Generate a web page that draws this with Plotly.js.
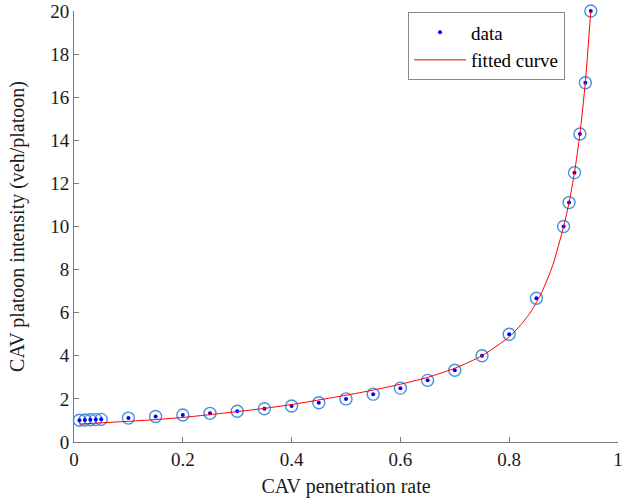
<!DOCTYPE html>
<html>
<head>
<meta charset="utf-8">
<script src="https://cdn.plot.ly/plotly-3.0.1.min.js"></script>
<style>html,body{margin:0;padding:0;background:#fff;}#chart{width:624px;height:501px;}</style>
</head>
<body>
<div id="chart"></div>
<script>
// Data points (CAV penetration rate vs platoon intensity)
var penetrationRate = [0.01, 0.02, 0.03, 0.04, 0.05, 0.10, 0.15, 0.20, 0.25, 0.30, 0.35, 0.40, 0.45, 0.50, 0.55, 0.60, 0.65, 0.70, 0.75, 0.80, 0.85, 0.90, 0.91, 0.92, 0.93, 0.94, 0.95];
var platoonIntensity = [1.01, 1.02, 1.03, 1.04, 1.05, 1.11, 1.18, 1.25, 1.33, 1.43, 1.54, 1.67, 1.82, 2.00, 2.22, 2.50, 2.86, 3.33, 4.00, 5.00, 6.67, 10.00, 11.11, 12.50, 14.29, 16.67, 20.00];

// Fitted curve
var fitRate = [0.01, 0.05, 0.10, 0.15, 0.20, 0.25, 0.30, 0.35, 0.40, 0.45, 0.50, 0.55, 0.60, 0.65, 0.70, 0.75, 0.80, 0.82, 0.84, 0.86, 0.88, 0.90, 0.91, 0.92, 0.93, 0.94, 0.95];
var fitIntensity = [0.83, 0.89, 0.96, 1.04, 1.14, 1.27, 1.41, 1.56, 1.74, 1.95, 2.17, 2.41, 2.68, 3.00, 3.42, 4.00, 4.88, 5.40, 6.05, 6.95, 8.20, 10.00, 11.10, 12.50, 14.30, 16.70, 20.00];

var xTicks = [0, 0.2, 0.4, 0.6, 0.8, 1];
var xTickText = ['0', '0.2', '0.4', '0.6', '0.8', '1'];
var yTicks = [0, 2, 4, 6, 8, 10, 12, 14, 16, 18, 20];

var fontFam = 'Liberation Serif, Times New Roman, serif';
var axisCol = '#7a7a7a';

var traces = [
  {
    x: penetrationRate, y: platoonIntensity, type: 'scatter', mode: 'markers',
    marker: {symbol: 'circle-open', size: 12, color: 'rgb(70,145,215)', line: {width: 1.4, color: 'rgb(70,145,215)'}},
    showlegend: false, hoverinfo: 'skip', cliponaxis: false
  },
  {
    x: penetrationRate, y: platoonIntensity, type: 'scatter', mode: 'markers', name: 'data',
    marker: {symbol: 'circle', size: 4, color: '#0000ff'}, cliponaxis: false
  },
  {
    x: fitRate, y: fitIntensity, type: 'scatter', mode: 'lines', name: 'fitted curve',
    line: {color: '#ff0000', width: 1, shape: 'spline', smoothing: 0.6}, cliponaxis: false
  }
];

var layout = {
  width: 624, height: 501,
  margin: {l: 74, r: 6, t: 11, b: 59},
  paper_bgcolor: '#fff', plot_bgcolor: '#fff',
  font: {family: fontFam, size: 18, color: '#1a1a1a'},
  showlegend: true,
  legend: {
    x: 0.614, y: 0.997, xanchor: 'left', yanchor: 'top',
    bgcolor: '#fff', bordercolor: '#8a8a8a', borderwidth: 1,
    font: {family: fontFam, size: 19, color: '#000'},
    tracegroupgap: 0, itemwidth: 52
  },
  xaxis: {
    range: [0, 1], tickvals: xTicks, ticktext: xTickText,
    showline: true, linecolor: axisCol, linewidth: 1, mirror: false,
    ticks: 'inside', ticklen: 5, tickcolor: axisCol, tickwidth: 1,
    showgrid: false, zeroline: false,
    tickfont: {family: fontFam, size: 19, color: '#1a1a1a'},
    title: {text: 'CAV penetration rate', font: {family: fontFam, size: 20, color: '#1a1a1a'}, standoff: 10}
  },
  yaxis: {
    range: [0, 20], tickvals: yTicks,
    showline: true, linecolor: axisCol, linewidth: 1, mirror: false,
    ticks: 'inside', ticklen: 5, tickcolor: axisCol, tickwidth: 1,
    showgrid: false, zeroline: false,
    tickfont: {family: fontFam, size: 19, color: '#1a1a1a'},
    title: {text: 'CAV platoon intensity (veh/platoon)', font: {family: fontFam, size: 20, color: '#1a1a1a'}, standoff: 20}
  }
};

Plotly.newPlot('chart', traces, layout, {displayModeBar: false, staticPlot: true});
</script>
</body>
</html>
